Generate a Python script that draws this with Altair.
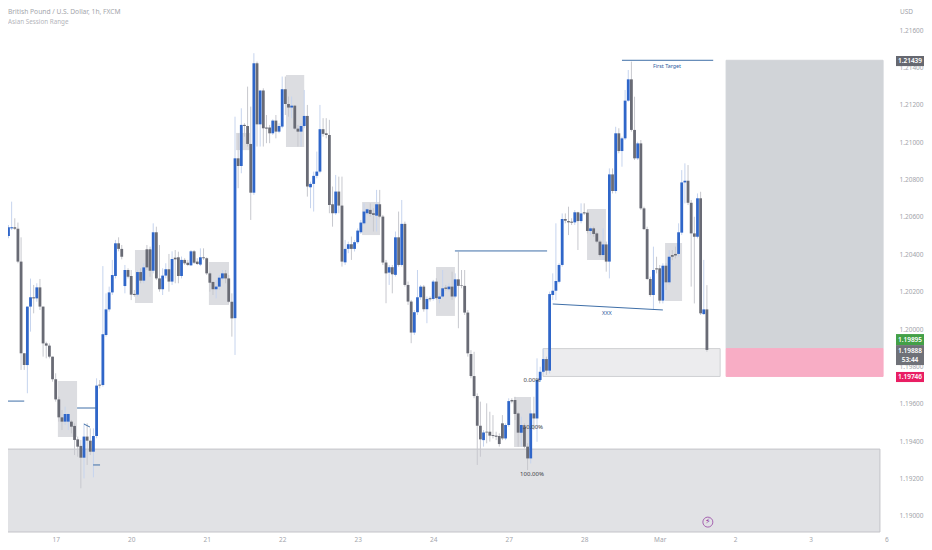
import altair as alt
import pandas as pd

# Prices are stored in points (0.00001) above 1.19000
BASE = 1.19
body_high = [
 1459,1498,1545,1545,1545,1537,1361,870,1120,1170,
 1170,1223,1223,1120,923,911,852,731,623,527,
 545,545,504,481,409,374,424,424,402,427,
 697,702,972,1105,1196,1289,1459,1459,1429,1316,
 1316,1284,1188,1305,1305,1330,1427,1427,1518,1518,
 1271,1286,1320,1320,1375,1382,1384,1370,1370,1355,
 1416,1416,1361,1384,1384,1379,1298,1252,1227,1275,
 1298,1298,1271,1146,1914,1914,2093,2093,2087,1991,
 2423,2423,2277,2277,2079,2079,2116,2116,2087,2284,
 2284,2205,2196,2196,2073,2087,2141,2141,1777,1820,
 1843,2070,2070,2048,2039,1668,1736,1736,1661,1429,
 1454,1454,1465,1527,1570,1629,1641,1638,1620,1668,
 1668,1602,1356,1331,1331,1491,1491,1563,1563,1236,
 1147,1090,1170,1227,1227,1161,1165,1254,1254,1174,
 1218,1222,1227,1227,1266,1266,1234,1231,1088,866,
 748,641,482,446,450,450,432,429,427,495,
 486,614,620,620,548,486,477,370,548,548,
 727,771,839,839,1187,1205,1257,1343,1589,1589,
 1578,1575,1625,1625,1619,1625,1623,1539,1539,1512,
 1468,1453,1453,1828,1828,2048,2048,2021,2223,2337,
 2337,2066,1994,1994,1646,1535,1268,1316,1325,1325,
 1339,1339,1387,1396,1402,1518,1785,1794,1794,1676,
 1512,1700,1700,1105,1105]
body_low = [
 1352,1459,1498,1539,1537,1361,870,807,807,1120,
 1164,1164,1120,923,911,852,731,623,527,504,
 504,504,477,406,370,311,311,402,343,343,
 427,697,700,968,1105,1196,1284,1429,1387,1230,
 1280,1184,1182,1184,1259,1259,1330,1312,1312,1271,
 1213,1213,1286,1254,1254,1373,1284,1284,1352,1343,
 1341,1355,1348,1345,1379,1298,1248,1213,1213,1227,
 1271,1271,1146,1057,1058,1873,1873,2087,1991,1730,
 1730,2096,2096,2075,2073,2048,2048,2057,2057,2084,
 2205,2186,2186,2073,2057,2057,2087,1763,1759,1777,
 1820,1843,2045,2039,1664,1620,1620,1661,1361,1357,
 1429,1429,1429,1465,1518,1566,1620,1616,1611,1607,
 1602,1356,1298,1302,1293,1290,1343,1343,1236,1147,
 981,981,1090,1170,1106,1106,1159,1161,1165,1161,
 1174,1215,1213,1174,1174,1231,1231,1088,870,748,
 641,482,409,405,446,429,427,423,384,414,
 414,486,612,545,445,445,370,307,307,521,
 521,727,771,777,777,1182,1205,1253,1343,1580,
 1571,1569,1571,1578,1578,1619,1525,1525,1509,1468,
 1396,1396,1361,1361,1739,1739,1953,1953,2021,2223,
 2066,1914,1914,1646,1535,1268,1182,1182,1319,1152,
 1152,1250,1250,1387,1394,1402,1516,1785,1676,1512,
 1494,1494,1084,1080,888]
wick_high = [
 1530,1741,1557,1682,1593,1570,1491,870,1120,1270,
 1236,1245,1268,1120,932,923,852,763,638,566,
 584,548,513,495,424,406,495,495,468,468,
 736,727,1337,1191,1227,1370,1477,1491,1450,1343,
 1325,1316,1209,1316,1325,1352,1450,1441,1566,1548,
 1450,1325,1352,1402,1416,1423,1414,1388,1379,1370,
 1423,1423,1379,1432,1432,1384,1307,1254,1262,1289,
 1316,1316,1289,1191,2137,2048,2182,2102,2298,2191,
 2477,2432,2280,2289,2146,2093,2123,2146,2102,2352,
 2352,2245,2245,2200,2093,2102,2280,2200,1789,1843,
 1950,2200,2129,2129,2120,1763,1825,1816,1816,1477,
 1468,1495,1477,1539,1584,1673,1647,1673,1647,1745,
 1745,1611,1370,1343,1343,1522,1629,1691,1575,1254,
 1156,1102,1316,1236,1236,1174,1174,1263,1272,1191,
 1316,1236,1245,1307,1298,1414,1316,1316,1102,887,
 878,655,611,459,602,557,539,450,441,539,
 495,629,629,637,557,530,495,388,566,637,
 843,798,896,852,1200,1298,1566,1352,1619,1619,
 1655,1593,1637,1628,1673,1673,1637,1548,1548,1521,
 1477,1539,1468,1860,1860,2083,2075,2030,2280,2387,
 2432,2244,2003,2012,1655,1548,1280,1441,1387,1343,
 1352,1352,1423,1423,1441,1566,1851,1887,1878,1691,
 1601,1726,1735,1370,1235]
wick_low = [
 1280,1441,1486,1530,1530,1352,781,781,656,986,
 1084,1146,1102,852,843,843,718,611,504,459,
 486,459,441,325,316,147,200,272,325,206,
 415,682,691,959,1093,1182,1271,1416,1373,1191,
 1271,1155,1173,1173,1245,1245,1316,1280,1298,1262,
 1200,1182,1271,1200,1236,1245,1245,1271,1343,1337,
 1337,1348,1343,1337,1370,1289,1200,1182,1164,1209,
 1262,1245,1138,959,861,1754,1834,2030,1977,1584,
 1718,1977,1977,1977,1995,1995,2039,2021,2048,2075,
 2146,2137,2129,2066,1977,1977,2075,1709,1647,1629,
 1807,1834,2030,2021,1620,1548,1611,1620,1334,1343,
 1406,1370,1415,1456,1509,1557,1611,1602,1522,1522,
 1593,1343,1138,1236,1191,1281,1334,1334,1227,1129,
 924,968,1075,1156,1093,1031,1147,1152,1156,1138,
 1165,1206,1200,1156,1165,1004,1218,1075,852,736,
 629,272,316,370,388,397,414,405,370,405,
 405,477,602,513,370,370,361,245,280,459,
 396,718,762,754,762,1155,1155,1244,1334,1566,
 1503,1557,1557,1423,1566,1610,1512,1503,1494,1459,
 1387,1369,1307,1271,1726,1726,1941,1869,2012,2217,
 2057,1905,1905,1637,1530,1262,1173,1102,1298,1137,
 1137,1209,1236,1369,1378,1387,1503,1673,1664,1227,
 1137,1485,1075,1075,878]
direction = "".join([
 "uuuudddduu", "dudddddddd", "uuddddu" + "ddu", "uduuuuu" + "ddu",
 "dddududdud", "duududdudd", "uddudddduu", "udddududdd",
 "ududdduduu", "ddudduuduu", "uuddddu" + "ddu", "uduuuuu" + "ddu",
 "dddudududd", "duuudududu", "udududdddd", "dddudddddd",
 "uuddduddud", "uuuduuuuud", "ddududdudd", "dudududuuu",
 "dduddddudd", "ududduuudd", "dudud"])

tick_index = [17, 41, 65, 89, 113, 137, 161, 185, 209, 233, 257, 281]
tick_label = ["17", "20", "21", "22", "23", "24", "27", "28", "Mar", "2", "3", "6"]
price_ticks = [1.19, 1.192, 1.194, 1.196, 1.198, 1.2, 1.202, 1.204, 1.206, 1.208,
               1.21, 1.212, 1.214, 1.216]

# bar span and price span (points), fill, stroke
zones = [
 (230.1, 280.0, 2439, 895, "#d1d4d8", "#d1d4d8"),
 (230.1, 280.0, 895, 746, "#f8adc5", "#f8adc5"),
 (-2.0, 279.0, 357, -87, "#e1e2e5", "#c3c3c8"),
 (171.9, 228.2, 895, 746, "#ececee", "#cfd0d3"),
]
session_boxes = [
 (17.7, 23.8, 722, 422), (42.2, 47.9, 1423, 1139), (65.7, 72.1, 1359, 1129),
 (74.3, 78.8, 2050, 1958), (90.2, 96.0, 2360, 1975), (114.4, 120.1, 1680, 1503),
 (137.9, 143.9, 1332, 1070), (162.7, 168.1, 636, 368), (185.9, 191.9, 1643, 1369),
 (210.7, 216.1, 1460, 1150),
]
segments = [
 (-1.0, 7.0, 614, 614), (23.8, 30.1, 577, 577), (26.0, 27.9, 491, 475),
 (28.9, 31.1, 272, 272), (143.9, 173.2, 1418, 1418), (175.0, 210.0, 1134, 1102),
 (197.0, 226.0, 2439, 2439),
]
notes = [
 ("First Target", 211.3, 2408, 5.3, "#2c5a9c"), ("XXX", 192.2, 1086, 5.5, "#2c5a9c"),
 ("0.00%", 168.4, 727, 6, "#3a3c44"), ("50.00%", 168.7, 475, 6, "#3a3c44"),
 ("100.00%", 168.4, 224, 6, "#3a3c44"),
]
# price of box top, price of box bottom, colour
tags = [
 (2462, 2408, "#666870"), (973, 914, "#43a047"), (914, 807, "#6f7178"), (770, 716, "#e91e63"),
]
tag_texts = [
 ("1.21439", 2435), ("1.19895", 941), ("1.19888", 882), ("53:44", 834), ("1.19746", 743),
]

def P(v):
    return BASE + v / 1e5

df = pd.DataFrame({
    "i": range(len(body_high)),
    "top": [P(v) for v in body_high], "bot": [P(v) for v in body_low],
    "hi": [P(v) for v in wick_high], "lo": [P(v) for v in wick_low],
    "dir": list(direction),
})

PW, PH = 880, 524
xscale = alt.Scale(domain=[1.844, 281.56], nice=False, zero=False, padding=0)
yscale = alt.Scale(domain=[1.18913, 1.21719], nice=False, zero=False, padding=0)
FONT = "Noto Sans"

lookup = "[" + ",".join(f"'{t}'" for t in tick_label) + "][indexof([" + ",".join(map(str, tick_index)) + "],datum.value)]"
xaxis = alt.Axis(values=tick_index, labelExpr=lookup, title=None, domain=False, ticks=False, grid=False,
                 labelFontSize=6.5, labelColor="#a3a5ab", labelPadding=4, labelFont=FONT)
yaxis = alt.Axis(values=price_ticks, format=".5f", orient="right", title=None, domain=False, ticks=False,
                 grid=False, labelFontSize=6.5, labelColor="#a3a5ab", labelPadding=11, labelFont=FONT)

X = alt.X("x:Q", scale=xscale, axis=xaxis)
Y = alt.Y("y:Q", scale=yscale, axis=yaxis)

zdf = pd.DataFrame([dict(x=a, x2=b, y=P(c), y2=P(d), f=e, s=g) for a, b, c, d, e, g in zones])
zone_layer = alt.Chart(zdf).mark_rect(strokeWidth=1).encode(
    x=X, x2="x2:Q", y=Y, y2="y2:Q",
    fill=alt.Fill("f:N", scale=None), stroke=alt.Stroke("s:N", scale=None))

sdf = pd.DataFrame([dict(x=a, x2=b, y=P(c), y2=P(d)) for a, b, c, d in session_boxes])
box_layer = alt.Chart(sdf).mark_rect(fill="#dcdde1").encode(
    x=alt.X("x:Q", scale=xscale), x2="x2:Q", y=alt.Y("y:Q", scale=yscale), y2="y2:Q")

wick_layer = alt.Chart(df).mark_rule(strokeWidth=1).encode(
    x=alt.X("i:Q", scale=xscale), y=alt.Y("hi:Q", scale=yscale), y2="lo:Q",
    color=alt.Color("dir:N", scale=alt.Scale(domain=["u", "d"], range=["#c6d4ee", "#c7c8ce"]), legend=None))

body_layer = alt.Chart(df).mark_bar(size=2.8).encode(
    x=alt.X("i:Q", scale=xscale), y=alt.Y("top:Q", scale=yscale), y2="bot:Q",
    color=alt.Color("dir:N", scale=alt.Scale(domain=["u", "d"], range=["#2f66c9", "#696b75"]), legend=None))

ldf = pd.DataFrame([dict(x=a, x2=b, y=P(c), y2=P(d)) for a, b, c, d in segments])
seg_layer = alt.Chart(ldf).mark_rule(strokeWidth=1, color="#3f6fa8").encode(
    x=alt.X("x:Q", scale=xscale), x2="x2:Q", y=alt.Y("y:Q", scale=yscale), y2="y2:Q")

ndf = pd.DataFrame([dict(t=a, x=b, y=P(c), fs=d, c=e) for a, b, c, d, e in notes])
note_layers = [
    alt.Chart(ndf[ndf.t == r[0]]).mark_text(font=FONT, fontSize=r[3], color=r[4]).encode(
        x=alt.X("x:Q", scale=xscale), y=alt.Y("y:Q", scale=yscale), text="t:N")
    for r in notes
]

tdf = pd.DataFrame([dict(y=P(a), y2=P(b), f=c) for a, b, c in tags])
tag_layer = alt.Chart(tdf).mark_rect().encode(
    x=alt.value(888), x2=alt.value(916), y=alt.Y("y:Q", scale=yscale), y2="y2:Q",
    fill=alt.Fill("f:N", scale=None))
ttdf = pd.DataFrame([dict(t=a, y=P(b)) for a, b in tag_texts])
tag_text = alt.Chart(ttdf).mark_text(font=FONT, fontSize=6.5, color="white", fontWeight=600).encode(
    x=alt.value(902), y=alt.Y("y:Q", scale=yscale), text="t:N")

def label(txt, px, py, color, size=6.7):
    return alt.Chart(pd.DataFrame({"t": [txt]})).mark_text(
        font=FONT, fontSize=size, color=color, align="left").encode(
        x=alt.value(px), y=alt.value(py), text="t:N")

flash = pd.DataFrame({"x": [224.3], "y": [P(-34)], "t": ["⚡"]})
flash_ring = alt.Chart(flash).mark_point(shape="circle", size=100, color="#8e2f9c", strokeWidth=1).encode(
    x=alt.X("x:Q", scale=xscale), y=alt.Y("y:Q", scale=yscale))
flash_text = alt.Chart(flash).mark_text(font="DejaVu Sans", fontSize=8, color="#8e2f9c").encode(
    x=alt.X("x:Q", scale=xscale), y=alt.Y("y:Q", scale=yscale), text="t:N")

chart = alt.layer(
    zone_layer, box_layer, wick_layer, body_layer, seg_layer, *note_layers,
    tag_layer, tag_text, flash_ring, flash_text,
    label("British Pound / U.S. Dollar, 1h, FXCM", 0, 4, "#a3a5ab"),
    label("Asian Session Range", 0, 14, "#b4b6bb", 6.3),
    label("USD", 892, 4, "#a3a5ab", 6.5),
).resolve_scale(color="independent").properties(
    width=PW, height=PH, background="white",
    padding={"left": 0, "top": 0, "right": 36, "bottom": 16},
    autosize=alt.AutoSizeParams(type="none"),
).configure_view(stroke=None)

chart.save("out.html", embed_options={"renderer": "svg", "actions": False})
